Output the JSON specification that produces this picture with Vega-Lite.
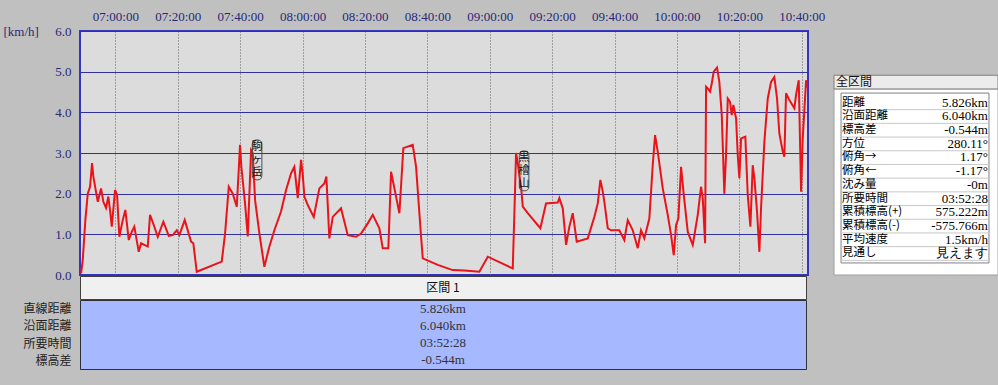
{
  "$schema": "https://vega.github.io/schema/vega-lite/v6.json",
  "background": "#c0c0c0",
  "autosize": {"type": "pad"},
  "padding": {"left": 2, "top": 9, "right": 1, "bottom": 16},
  "config": {"font": "Liberation Serif"},
  "bounds": "flush",
  "columns": 2,
  "spacing": {"row": 1, "column": 26},
  "concat": [
    {
      "width": 728,
      "height": 244,
      "view": {"fill": "#dcdcdc", "stroke": "#3535c0", "strokeWidth": 2},
      "layer": [
        {
          "data": {
            "format": {"parse": {"t": "date:'%H:%M:%S'"}},
            "values": [
              {"t": "06:49:01", "v": 0.04}, {"t": "06:49:33", "v": 0.37}, {"t": "06:50:23", "v": 1.35}, {"t": "06:51:09", "v": 2.0},
              {"t": "06:51:53", "v": 2.17}, {"t": "06:52:32", "v": 2.75}, {"t": "06:52:57", "v": 2.42}, {"t": "06:54:22", "v": 1.8},
              {"t": "06:55:25", "v": 2.13}, {"t": "06:56:09", "v": 1.8}, {"t": "06:57:01", "v": 1.65}, {"t": "06:57:45", "v": 1.93},
              {"t": "06:58:24", "v": 1.52}, {"t": "06:58:51", "v": 1.19}, {"t": "06:59:54", "v": 2.09}, {"t": "07:00:33", "v": 1.97},
              {"t": "07:01:17", "v": 0.94}, {"t": "07:02:22", "v": 1.35}, {"t": "07:03:12", "v": 1.6}, {"t": "07:04:18", "v": 0.86},
              {"t": "07:05:15", "v": 1.06}, {"t": "07:06:05", "v": 1.19}, {"t": "07:07:30", "v": 0.57}, {"t": "07:08:14", "v": 0.78},
              {"t": "07:09:18", "v": 0.74}, {"t": "07:10:23", "v": 0.7}, {"t": "07:11:07", "v": 1.48}, {"t": "07:12:18", "v": 1.23},
              {"t": "07:13:35", "v": 0.94}, {"t": "07:15:23", "v": 1.31}, {"t": "07:17:07", "v": 0.96}, {"t": "07:18:24", "v": 0.98},
              {"t": "07:19:41", "v": 1.1}, {"t": "07:20:31", "v": 0.98}, {"t": "07:22:14", "v": 1.35}, {"t": "07:24:16", "v": 0.82},
              {"t": "07:25:00", "v": 0.78}, {"t": "07:26:05", "v": 0.08}, {"t": "07:34:06", "v": 0.33}, {"t": "07:35:10", "v": 1.02},
              {"t": "07:36:21", "v": 2.17}, {"t": "07:37:38", "v": 2.0}, {"t": "07:38:55", "v": 1.68}, {"t": "07:39:58", "v": 3.2},
              {"t": "07:40:23", "v": 2.66}, {"t": "07:41:34", "v": 1.76}, {"t": "07:42:26", "v": 0.95}, {"t": "07:43:30", "v": 3.07},
              {"t": "07:44:02", "v": 3.0}, {"t": "07:44:47", "v": 1.84}, {"t": "07:46:09", "v": 1.03}, {"t": "07:47:45", "v": 0.2},
              {"t": "07:49:22", "v": 0.7}, {"t": "07:50:58", "v": 1.1}, {"t": "07:53:06", "v": 1.56}, {"t": "07:54:43", "v": 2.09},
              {"t": "07:56:19", "v": 2.5}, {"t": "07:57:22", "v": 2.66}, {"t": "07:58:28", "v": 1.89}, {"t": "07:59:31", "v": 2.83},
              {"t": "08:00:04", "v": 2.46}, {"t": "08:00:35", "v": 1.93}, {"t": "08:01:40", "v": 1.72}, {"t": "08:03:35", "v": 1.43},
              {"t": "08:05:23", "v": 2.13}, {"t": "08:06:59", "v": 2.25}, {"t": "08:07:38", "v": 2.42}, {"t": "08:08:35", "v": 0.9},
              {"t": "08:09:41", "v": 1.43}, {"t": "08:12:20", "v": 1.64}, {"t": "08:14:29", "v": 0.98}, {"t": "08:17:09", "v": 0.94},
              {"t": "08:18:45", "v": 1.02}, {"t": "08:20:54", "v": 1.27}, {"t": "08:22:30", "v": 1.48}, {"t": "08:24:37", "v": 1.15},
              {"t": "08:25:42", "v": 0.66}, {"t": "08:27:30", "v": 0.66}, {"t": "08:28:22", "v": 2.54}, {"t": "08:29:39", "v": 2.05},
              {"t": "08:31:02", "v": 1.52}, {"t": "08:32:18", "v": 3.12}, {"t": "08:35:19", "v": 3.2}, {"t": "08:36:23", "v": 2.66},
              {"t": "08:37:59", "v": 0.94}, {"t": "08:38:32", "v": 0.41}, {"t": "08:43:20", "v": 0.25}, {"t": "08:48:08", "v": 0.12},
              {"t": "08:51:52", "v": 0.11}, {"t": "08:56:40", "v": 0.08}, {"t": "08:59:22", "v": 0.45}, {"t": "09:07:22", "v": 0.16},
              {"t": "09:07:53", "v": 1.5}, {"t": "09:08:26", "v": 3.0}, {"t": "09:08:58", "v": 2.75}, {"t": "09:10:02", "v": 2.17},
              {"t": "09:10:35", "v": 1.68}, {"t": "09:12:11", "v": 1.52}, {"t": "09:16:13", "v": 1.15}, {"t": "09:18:02", "v": 1.76},
              {"t": "09:21:47", "v": 1.78}, {"t": "09:22:18", "v": 1.89}, {"t": "09:23:24", "v": 1.64}, {"t": "09:24:28", "v": 0.74},
              {"t": "09:25:31", "v": 1.19}, {"t": "09:26:36", "v": 1.52}, {"t": "09:27:53", "v": 0.82}, {"t": "09:31:25", "v": 0.9},
              {"t": "09:33:32", "v": 1.43}, {"t": "09:34:37", "v": 1.76}, {"t": "09:35:27", "v": 2.34}, {"t": "09:36:13", "v": 2.05},
              {"t": "09:36:44", "v": 1.8}, {"t": "09:37:49", "v": 1.15}, {"t": "09:38:53", "v": 1.1}, {"t": "09:41:32", "v": 1.1},
              {"t": "09:43:08", "v": 0.86}, {"t": "09:44:14", "v": 1.35}, {"t": "09:45:50", "v": 1.1}, {"t": "09:47:26", "v": 0.66},
              {"t": "09:48:29", "v": 1.1}, {"t": "09:49:33", "v": 0.9}, {"t": "09:51:09", "v": 1.39}, {"t": "09:52:14", "v": 2.7},
              {"t": "09:52:59", "v": 3.44}, {"t": "09:53:51", "v": 3.03}, {"t": "09:55:27", "v": 2.13}, {"t": "09:57:03", "v": 1.48},
              {"t": "09:58:07", "v": 0.98}, {"t": "09:58:58", "v": 0.49}, {"t": "09:59:43", "v": 1.23}, {"t": "10:00:27", "v": 1.39},
              {"t": "10:01:19", "v": 2.66}, {"t": "10:02:11", "v": 1.97}, {"t": "10:03:28", "v": 1.06}, {"t": "10:05:04", "v": 0.74},
              {"t": "10:06:40", "v": 1.48}, {"t": "10:07:43", "v": 2.17}, {"t": "10:08:16", "v": 1.89}, {"t": "10:09:01", "v": 0.78},
              {"t": "10:09:20", "v": 4.63}, {"t": "10:09:52", "v": 4.59}, {"t": "10:10:37", "v": 4.51}, {"t": "10:11:09", "v": 4.71},
              {"t": "10:11:47", "v": 5.0}, {"t": "10:12:51", "v": 5.1}, {"t": "10:13:35", "v": 4.75}, {"t": "10:14:22", "v": 3.93},
              {"t": "10:15:11", "v": 2.0}, {"t": "10:15:44", "v": 2.95}, {"t": "10:16:17", "v": 4.34}, {"t": "10:17:01", "v": 4.26},
              {"t": "10:17:34", "v": 3.93}, {"t": "10:18:05", "v": 4.18}, {"t": "10:18:57", "v": 3.85}, {"t": "10:19:29", "v": 2.95},
              {"t": "10:20:00", "v": 2.38}, {"t": "10:20:33", "v": 3.36}, {"t": "10:21:55", "v": 3.4}, {"t": "10:22:41", "v": 1.97},
              {"t": "10:23:32", "v": 1.19}, {"t": "10:24:17", "v": 2.7}, {"t": "10:24:49", "v": 2.38}, {"t": "10:25:40", "v": 1.56},
              {"t": "10:26:25", "v": 0.57}, {"t": "10:26:57", "v": 1.64}, {"t": "10:28:01", "v": 3.28}, {"t": "10:29:06", "v": 4.34},
              {"t": "10:30:10", "v": 4.75}, {"t": "10:31:13", "v": 4.87}, {"t": "10:32:05", "v": 4.34}, {"t": "10:32:49", "v": 3.48},
              {"t": "10:33:55", "v": 3.03}, {"t": "10:34:25", "v": 2.91}, {"t": "10:34:58", "v": 4.47}, {"t": "10:36:02", "v": 4.3},
              {"t": "10:37:38", "v": 4.1}, {"t": "10:38:10", "v": 4.43}, {"t": "10:39:02", "v": 4.79}, {"t": "10:39:47", "v": 2.05},
              {"t": "10:40:19", "v": 3.36}, {"t": "10:41:23", "v": 4.79}, {"t": "10:41:42", "v": 4.6}
            ]
          },
          "mark": {"type": "line", "color": "#e8141a", "strokeWidth": 2, "clip": true},
          "encoding": {
            "x": {
              "field": "t", "type": "temporal",
              "scale": {"domain": [
                {"year": 1900, "month": 1, "date": 1, "hours": 6, "minutes": 48, "seconds": 40},
                {"year": 1900, "month": 1, "date": 1, "hours": 10, "minutes": 42, "seconds": 0}
              ]},
              "axis": {
                "orient": "top", "title": null, "format": "%H:%M:%S", "formatType": "time",
                "values": [
                  {"year": 1900, "month": 1, "date": 1, "hours": 7, "minutes": 0},
                  {"year": 1900, "month": 1, "date": 1, "hours": 7, "minutes": 20},
                  {"year": 1900, "month": 1, "date": 1, "hours": 7, "minutes": 40},
                  {"year": 1900, "month": 1, "date": 1, "hours": 8, "minutes": 0},
                  {"year": 1900, "month": 1, "date": 1, "hours": 8, "minutes": 20},
                  {"year": 1900, "month": 1, "date": 1, "hours": 8, "minutes": 40},
                  {"year": 1900, "month": 1, "date": 1, "hours": 9, "minutes": 0},
                  {"year": 1900, "month": 1, "date": 1, "hours": 9, "minutes": 20},
                  {"year": 1900, "month": 1, "date": 1, "hours": 9, "minutes": 40},
                  {"year": 1900, "month": 1, "date": 1, "hours": 10, "minutes": 0},
                  {"year": 1900, "month": 1, "date": 1, "hours": 10, "minutes": 20},
                  {"year": 1900, "month": 1, "date": 1, "hours": 10, "minutes": 40}
                ],
                "labelFont": "Liberation Serif", "labelFontSize": 13, "labelColor": "#282878",
                "labelPadding": 8, "labelFlush": false, "labelOverlap": false,
                "ticks": false, "domain": false,
                "grid": true, "gridColor": "#606060", "gridDash": [1, 2], "gridWidth": 1
              }
            },
            "y": {
              "field": "v", "type": "quantitative",
              "scale": {"domain": [0, 6], "nice": false},
              "axis": {
                "values": [0, 0.5, 1, 1.5, 2, 2.5, 3, 3.5, 4, 4.5, 5, 5.5, 6],
                "format": ".1f",
                "labelFont": "Liberation Serif", "labelFontSize": 13, "labelColor": "#282878",
                "labelPadding": 9, "ticks": false, "domain": false,
                "grid": true, "gridColor": "#3030a0", "gridWidth": 1,
                "title": "[km/h]", "titleAngle": 0, "titleX": -77, "titleY": 0,
                "titleAlign": "left", "titleBaseline": "middle",
                "titleFont": "Liberation Serif", "titleFontSize": 13, "titleFontWeight": "normal", "titleColor": "#282878"
              }
            }
          }
        },
        {
          "data": {
            "format": {"parse": {"t": "date:'%H:%M:%S'"}},
            "values": [
              {"t": "07:45:25", "v": 2.83, "name": "駒\nヶ\n岳"},
              {"t": "09:11:00", "v": 2.56, "name": "黒\n檜\n山"}
            ]
          },
          "layer": [
            {
              "mark": {
                "type": "point",
                "shape": "M -0.24 -0.78 Q -0.24 -1 0 -1 Q 0.24 -1 0.24 -0.78 L 0.24 0.78 Q 0.24 1 0 1 Q -0.24 1 -0.24 0.78 Z",
                "size": 1600, "filled": false, "stroke": "#505050", "strokeWidth": 1, "opacity": 1
              },
              "encoding": {
                "x": {"field": "t", "type": "temporal"},
                "y": {"field": "v", "type": "quantitative"}
              }
            },
            {
              "mark": {"type": "text", "lineBreak": "\n", "baseline": "middle", "dy": -13, "font": "Noto Sans CJK JP", "fontSize": 11, "lineHeight": 13, "color": "#111"},
              "encoding": {
                "x": {"field": "t", "type": "temporal"},
                "y": {"field": "v", "type": "quantitative"},
                "text": {"field": "name"}
              }
            }
          ]
        }
      ]
    },
    {
      "width": 164,
      "height": 244,
      "view": {"stroke": null, "fill": null},
      "layer": [
        {
          "data": {"values": [{"part": "body"}]},
          "mark": {"type": "rect", "fill": "#ffffff", "stroke": "#a0a0a0", "strokeWidth": 1},
          "encoding": {
            "x": {"datum": 0, "type": "quantitative", "scale": {"domain": [0, 1], "nice": false, "zero": false}, "axis": null},
            "x2": {"datum": 1},
            "y": {"datum": 0, "type": "quantitative", "scale": {"domain": [-4.23, 13.58], "reverse": true, "nice": false, "zero": false}, "axis": null},
            "y2": {"datum": 13.58}
          }
        },
        {
          "data": {"values": [{"part": "header"}]},
          "mark": {"type": "rect", "fill": "#ececec", "stroke": "#808080", "strokeWidth": 1},
          "encoding": {
            "x": {"datum": 0, "type": "quantitative"},
            "x2": {"datum": 1},
            "y": {"datum": -1, "type": "quantitative"},
            "y2": {"datum": 0}
          }
        },
        {
          "data": {"values": [{"title": "全区間"}]},
          "mark": {"type": "text", "align": "left", "dx": 2, "font": "Noto Sans CJK JP", "fontSize": 12, "color": "#111"},
          "encoding": {
            "x": {"datum": 0, "type": "quantitative"},
            "y": {"datum": -0.5, "type": "quantitative"},
            "text": {"field": "title"}
          }
        },
        {
          "data": {"values": [{"part": "frame"}]},
          "mark": {"type": "rect", "fill": null, "stroke": "#808080", "strokeWidth": 1},
          "encoding": {
            "x": {"datum": 0.043, "type": "quantitative"},
            "x2": {"datum": 0.945},
            "y": {"datum": 0.3, "type": "quantitative"},
            "y2": {"datum": 12.7}
          }
        },
        {
          "data": {"values": [
            {"row": 1, "label": "距離", "value": "5.826km"},
            {"row": 2, "label": "沿面距離", "value": "6.040km"},
            {"row": 3, "label": "標高差", "value": "-0.544m"},
            {"row": 4, "label": "方位", "value": "280.11°"},
            {"row": 5, "label": "俯角→", "value": "1.17°"},
            {"row": 6, "label": "俯角←", "value": "-1.17°"},
            {"row": 7, "label": "沈み量", "value": "-0m"},
            {"row": 8, "label": "所要時間", "value": "03:52:28"},
            {"row": 9, "label": "累積標高(+)", "value": "575.222m"},
            {"row": 10, "label": "累積標高(-)", "value": "-575.766m"},
            {"row": 11, "label": "平均速度", "value": "1.5km/h"},
            {"row": 12, "label": "見通し", "value": "見えます"}
          ]},
          "layer": [
            {
              "mark": {"type": "rule", "color": "#c8c8c8", "strokeWidth": 1, "yOffset": 7},
              "encoding": {
                "x": {"datum": 0.043, "type": "quantitative"},
                "x2": {"datum": 0.945},
                "y": {"field": "row", "type": "quantitative"}
              }
            },
            {
              "mark": {"type": "text", "align": "left", "dx": 1, "font": "Noto Sans CJK JP", "fontSize": 11.5, "color": "#000"},
              "encoding": {
                "x": {"datum": 0.043, "type": "quantitative"},
                "y": {"field": "row", "type": "quantitative"},
                "text": {"field": "label"}
              }
            },
            {
              "mark": {"type": "text", "align": "right", "dx": -1, "font": "Liberation Serif", "fontSize": 13, "color": "#000"},
              "encoding": {
                "x": {"datum": 0.945, "type": "quantitative"},
                "y": {"field": "row", "type": "quantitative"},
                "text": {"field": "value"}
              }
            }
          ]
        }
      ]
    },
    {
      "width": 726,
      "height": 23,
      "view": {"fill": "#f0f0f0", "stroke": "#404040", "strokeWidth": 1},
      "data": {"values": [{"label": "区間 1"}]},
      "mark": {"type": "text", "font": "Noto Sans CJK JP", "fontSize": 12, "color": "#111"},
      "encoding": {"text": {"field": "label"}}
    },
    {
      "width": 1,
      "height": 1,
      "view": {"stroke": null, "fill": null},
      "data": {"values": []},
      "mark": "text",
      "encoding": {}
    },
    {
      "width": 726,
      "height": 69,
      "view": {"fill": "#a6b8ff", "stroke": "#303030", "strokeWidth": 1},
      "data": {"values": [
        {"label": "直線距離", "value": "5.826km"},
        {"label": "沿面距離", "value": "6.040km"},
        {"label": "所要時間", "value": "03:52:28"},
        {"label": "標高差", "value": "-0.544m"}
      ]},
      "mark": {"type": "text", "font": "Liberation Serif", "fontSize": 13, "color": "#333"},
      "encoding": {
        "y": {
          "field": "label", "type": "nominal", "sort": null,
          "scale": {"type": "point", "padding": 0.5},
          "axis": {"title": null, "ticks": false, "domain": false, "labelPadding": 9, "labelFont": "Noto Sans CJK JP", "labelFontSize": 12, "labelColor": "#222"}
        },
        "text": {"field": "value"}
      }
    }
  ]
}
